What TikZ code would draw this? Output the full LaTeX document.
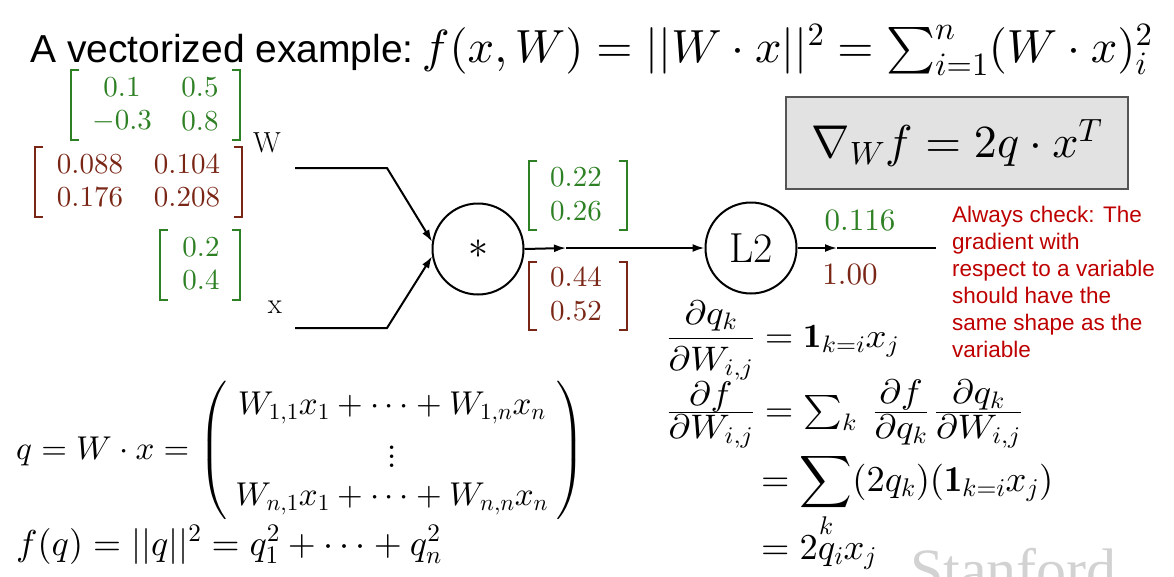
\documentclass[tikz,border=0pt]{standalone}
\usepackage{amsmath}
\usepackage{fontspec}
\newfontfamily\sansf{Liberation Sans}
\newfontfamily\serf{Liberation Serif}
\DeclareFontFamily{OT1}{cmr}{\hyphenchar\font45 }
\DeclareFontShape{OT1}{cmr}{m}{n}{<->cmr10}{}
\DeclareFontShape{OT1}{cmr}{bx}{n}{<->cmbx10}{}
\DeclareFontShape{OT1}{cmr}{m}{it}{<->cmti10}{}
\DeclareFontFamily{OML}{cmm}{\skewchar\font127 }
\DeclareFontShape{OML}{cmm}{m}{it}{<->cmmi10}{}
\DeclareFontFamily{OMS}{cmsy}{\skewchar\font48 }
\DeclareFontShape{OMS}{cmsy}{m}{n}{<->cmsy10}{}
\DeclareFontFamily{OMX}{cmex}{}
\DeclareFontShape{OMX}{cmex}{m}{n}{<->cmex10}{}
\usetikzlibrary{arrows.meta}
\definecolor{gnum}{RGB}{45,128,35}
\definecolor{rnum}{RGB}{122,38,22}
\definecolor{alertred}{RGB}{190,0,0}
\definecolor{boxfill}{RGB}{226,226,226}
\definecolor{boxline}{RGB}{85,85,85}
\newcommand\bigvdots{\lower8pt\vbox{\baselineskip=9pt\lineskiplimit=0pt\hbox{$.$}\hbox{$.$}\hbox{$.$}}}
\newcommand\dfr[2]{\frac{\displaystyle #1}{\displaystyle #2}}
\newcommand\lownum[1]{\smash[b]{\displaystyle #1}\rule[-4.5pt]{0pt}{1pt}}
\tikzset{
  num/.style={inner sep=0, font=\fontsize{29}{35}\selectfont},
  gn/.style={num, text=gnum},
  rn/.style={num, text=rnum},
  bk/.style={line width=1.4pt},
  wire/.style={line width=2pt, draw=black},
  arr/.style={wire, -{Latex[length=12pt,width=8pt]}},
  opnode/.style={circle, draw=black, line width=2pt, minimum size=91pt, inner sep=0},
  eq/.style={inner sep=0, anchor=base west, font=\fontsize{36.5}{44}\selectfont},
  eqn/.style={inner sep=0, anchor=base west, transform shape, font=\fontsize{34}{41}\selectfont},
  leq/.style={inner sep=0, anchor=base west, font=\fontsize{33}{39.6}\selectfont},
}
\begin{document}
\begin{tikzpicture}[x=1pt,y=-1pt]
\useasboundingbox (0,0) rectangle (1174,576);
\fill[white] (0,0) rectangle (1174,576);

% watermark
\node[anchor=base west, inner sep=0, text=gray!35] (stan) at (910,590) {\fontsize{60}{70}\selectfont\serf Stanford};

% title
\node[anchor=base west, inner sep=0] (title) at (30,62)
  {\fontsize{39}{47}\selectfont\sansf A vectorized example:\hspace{8pt}\fontsize{46.5}{56}\selectfont$f(x,W)=||W\cdot x||^2=\sum_{i=1}^n(W\cdot x)_i^2$};

% W values (green)
\node[gn] (w11) at (122,87) {$0.1$};
\node[gn] (w12) at (200,87) {$0.5$};
\node[gn] (w21) at (122,121) {$-0.3$};
\node[gn] (w22) at (200,121) {$0.8$};
\draw[gnum,bk] (79,70) -- (71,70) -- (71,140) -- (79,140);
\draw[gnum,bk] (232,70) -- (240,70) -- (240,140) -- (232,140);

% W gradients (red)
\node[rn] (gw11) at (90,164) {$0.088$};
\node[rn] (gw12) at (187,164) {$0.104$};
\node[rn] (gw21) at (90,197) {$0.176$};
\node[rn] (gw22) at (187,197) {$0.208$};
\draw[rnum,bk] (43,147) -- (35,147) -- (35,217) -- (43,217);
\draw[rnum,bk] (234,147) -- (242,147) -- (242,217) -- (234,217);

% x values (green)
\node[gn] (x1) at (201,247) {$0.2$};
\node[gn] (x2) at (201,280) {$0.4$};
\draw[gnum,bk] (168,230) -- (160,230) -- (160,300) -- (168,300);
\draw[gnum,bk] (232,230) -- (240,230) -- (240,300) -- (232,300);

% labels
\node[inner sep=0, font=\fontsize{29}{35}\selectfont] (wl) at (267,143) {$\mathrm{W}$};
\node[inner sep=0, font=\fontsize{29}{35}\selectfont] (xl) at (275,307) {$\mathrm{x}$};

% operation nodes
\node[opnode, font=\fontsize{40}{48}\selectfont] (mul) at (478,249) {$*$};
\node[opnode, font=\fontsize{42}{50}\selectfont] (l2) at (751,248) {$\mathrm{L2}$};

% wires
\coordinate (ws) at (295,168);
\coordinate (wb) at (387,168);
\coordinate (xs) at (295,328);
\coordinate (xb) at (387,328);
\draw[arr] (ws) -- (wb) -- (mul.171);
\draw[arr] (xs) -- (xb) -- (mul.189);
\coordinate (m1) at (566,248);
\draw[arr] (mul.east) -- (m1);
\draw[arr] (m1) -- (l2.west);
\coordinate (o1) at (837,248);
\coordinate (oe) at (936,248);
\draw[arr] (l2.east) -- (o1);
\draw[wire] (o1) -- (oe);

% q values and gradients
\node[gn] (q1) at (576,177) {$0.22$};
\node[gn] (q2) at (576,211) {$0.26$};
\draw[gnum,bk] (537,161) -- (529,161) -- (529,230) -- (537,230);
\draw[gnum,bk] (619,161) -- (627,161) -- (627,230) -- (619,230);
\node[rn] (gq1) at (576,277) {$0.44$};
\node[rn] (gq2) at (576,311) {$0.52$};
\draw[rnum,bk] (537,262) -- (529,262) -- (529,330) -- (537,330);
\draw[rnum,bk] (619,262) -- (627,262) -- (627,330) -- (619,330);

% output
\node[gn, font=\fontsize{31}{37}\selectfont] (fv) at (860,221) {$0.116$};
\node[rn, font=\fontsize{31}{37}\selectfont] (gf) at (850,275) {$1.00$};

% gradient box
\node[draw=boxline, fill=boxfill, line width=1.5pt, minimum width=342pt, minimum height=92pt, inner sep=0,
  font=\fontsize{46}{55}\selectfont] (grad) at (957,143) {$\nabla_W f = 2q\cdot x^T$};

% note
\node[anchor=north west, inner sep=0, align=left, text=alertred,
  font=\fontsize{22.5}{27}\selectfont\sansf] (note) at (952,206)
  {Always check: The\\gradient with\\respect to a variable\\should have the\\same shape as the\\variable};

% right equations
\begin{scope}[shift={(667,347)}, xscale=1.08]
\node[eqn] (e1) at (0,0) {$\displaystyle\frac{\partial q_k}{\partial W_{i,j}} = \mathbf{1}_{k=i}x_j$};
\end{scope}
\begin{scope}[shift={(667,421)}, xscale=1.08]
\node[eqn] (e2) at (0,0) {$\frac{\lownum{\partial f}}{\displaystyle\partial W_{i,j}} = \sum_k\; \dfr{\partial f}{\partial q_k}\,\dfr{\partial q_k}{\partial W_{i,j}}$};
\end{scope}
\node[eq] (e3) at (761,491) {$\displaystyle = \sum_k (2q_k)(\mathbf{1}_{k=i}x_j)$};
\node[eq] (e4) at (761,559) {$= 2q_ix_j$};

% left equations
\node[leq] (qeq) at (16,459) {$q = W\cdot x = \renewcommand\arraystretch{1.15}\left(\hspace{8pt}\begin{matrix} W_{1,1}x_1+\cdots+W_{1,n}x_n\\ \bigvdots\\ W_{n,1}x_1+\cdots+W_{n,n}x_n\end{matrix}\hspace{8pt}\right)$};
\node[leq, font=\fontsize{36}{43}\selectfont] (feq) at (16,555) {$f(q) = ||q||^2 = q_1^2+\cdots+q_n^2$};
\end{tikzpicture}
\end{document}
